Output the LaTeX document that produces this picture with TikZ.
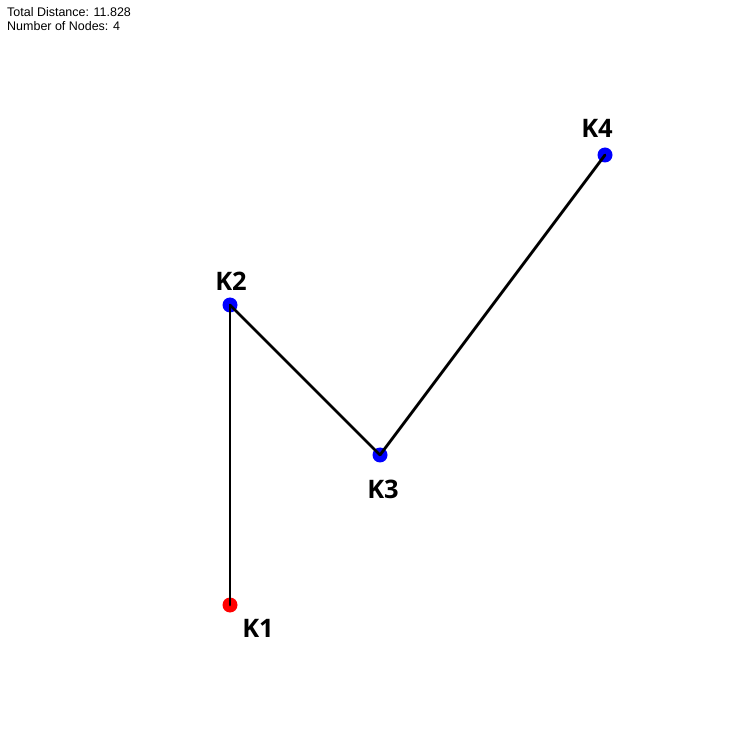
\documentclass[tikz,border=0pt]{standalone}
\usepackage{fontspec}
\setmainfont{Liberation Sans}
\newfontfamily\labelfont{Open Sans}
\usetikzlibrary{positioning}
\tikzset{
  stopdot/.style={circle, inner sep=0pt, minimum size=0.3cm},
  startdot/.style={stopdot, fill=red},
  routedot/.style={stopdot, fill=blue},
  stoplabel/.style={font=\labelfont\bfseries\fontsize{14.5}{16}\selectfont, inner sep=0pt, anchor=center},
  routeline/.style={line width=1.6pt, line cap=round},
  infotext/.style={font=\fontsize{7.1}{8}\selectfont, inner sep=0pt, anchor=north west, align=left}
}
\begin{document}
\begin{tikzpicture}[x=1.5cm, y=1.5cm]
    % 画像の範囲
    \useasboundingbox (-3.0667, -1.84) rectangle (6.8267, 8.0667);
    \fill[white] (-3.0667, -1.84) rectangle (6.8267, 8.0667);

    % 情報テキスト
    \node[infotext] (info) at (-2.975, 7.97) {Total Distance: 11.828\\Number of Nodes: 4};

    % 各地点
    \node[startdot] (K1) at (0, 0) {};
    \node[routedot] (K2) at (0, 4) {};
    \node[routedot] (K3) at (2, 2) {};
    \node[routedot] (K4) at (5, 6) {};

    % 地点名
    \node[stoplabel] (L1) at ([shift={(0.56cm,-0.46cm)}]K1.center) {K1};
    \node[stoplabel] (L2) at ([shift={(0.02cm,0.48cm)}]K2.center) {K2};
    \node[stoplabel] (L3) at ([shift={(0.06cm,-0.68cm)}]K3.center) {K3};
    \node[stoplabel] (L4) at ([shift={(-0.16cm,0.54cm)}]K4.center) {K4};

    % 経路
    \draw[routeline] (K1.center) -- (K2.center);
    \draw[routeline] (K2.center) -- (K3.center);
    \draw[routeline] (K3.center) -- (K4.center);
\end{tikzpicture}
\end{document}
